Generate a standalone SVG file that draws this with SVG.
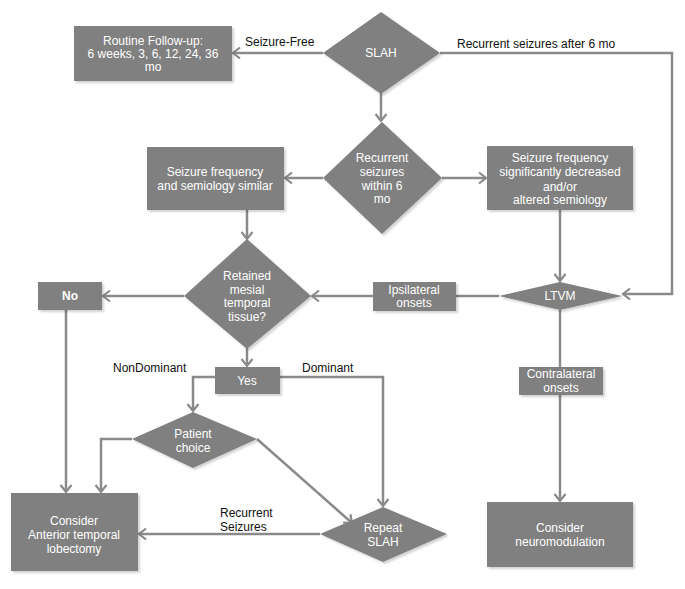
<svg xmlns="http://www.w3.org/2000/svg" width="685" height="589" viewBox="0 0 685 589">
<defs>
<style>
.box{fill:#808080;filter:url(#sh);}
.t{font-family:"Liberation Sans",Arial,sans-serif;font-size:12px;fill:#ffffff;text-anchor:middle;}
.lb{font-family:"Liberation Sans",Arial,sans-serif;font-size:12px;fill:#111111;}
.c{fill:none;stroke:#8a8a8a;stroke-width:2.5;}
</style>
<filter id="sh" x="-10%" y="-10%" width="130%" height="130%">
<feDropShadow dx="2" dy="2" stdDeviation="1.2" flood-color="#000" flood-opacity="0.18"/>
</filter>
<marker id="ah" markerUnits="userSpaceOnUse" markerWidth="14" markerHeight="14" viewBox="0 0 14 14" refX="11" refY="7" orient="auto">
<path d="M4,1.5 L11,7 L4,12.5" fill="none" stroke="#8a8a8a" stroke-width="2.2"/>
</marker>
</defs>
<rect width="685" height="589" fill="#ffffff"/>
<g id="connectors">
<line class="c" x1="323" y1="53" x2="233" y2="53" marker-end="url(#ah)"/>
<line class="c" x1="381" y1="93" x2="381" y2="121" marker-end="url(#ah)"/>
<polyline class="c" points="440,53 672,53 672,294 623,294" marker-end="url(#ah)"/>
<line class="c" x1="323" y1="178" x2="285" y2="178" marker-end="url(#ah)"/>
<line class="c" x1="442" y1="178" x2="486" y2="178" marker-end="url(#ah)"/>
<line class="c" x1="560" y1="210" x2="560" y2="281" marker-end="url(#ah)"/>
<line class="c" x1="247" y1="210" x2="247" y2="239" marker-end="url(#ah)"/>
<line class="c" x1="499" y1="296" x2="456" y2="296"/>
<line class="c" x1="373" y1="296" x2="312" y2="296" marker-end="url(#ah)"/>
<line class="c" x1="184" y1="296" x2="103" y2="296" marker-end="url(#ah)"/>
<line class="c" x1="66" y1="310" x2="66" y2="492" marker-end="url(#ah)"/>
<line class="c" x1="247" y1="348" x2="247" y2="366" marker-end="url(#ah)"/>
<polyline class="c" points="215,377 193,377 193,411" marker-end="url(#ah)"/>
<polyline class="c" points="280,377 383,377 383,506" marker-end="url(#ah)"/>
<polyline class="c" points="132,439 101,439 101,492" marker-end="url(#ah)"/>
<line class="c" x1="257" y1="439" x2="352" y2="523" marker-end="url(#ah)"/>
<line class="c" x1="320" y1="534" x2="139" y2="534" marker-end="url(#ah)"/>
<line class="c" x1="560" y1="310" x2="560" y2="367"/>
<line class="c" x1="560" y1="395" x2="560" y2="501" marker-end="url(#ah)"/>
<text class="lb" x="245" y="46">Seizure-Free</text>
<text class="lb" x="457" y="48">Recurrent seizures after 6 mo</text>
<text class="lb" x="113" y="372">NonDominant</text>
<text class="lb" x="302" y="372">Dominant</text>
<text class="lb" x="220" y="517">Recurrent</text>
<text class="lb" x="220" y="531">Seizures</text>
</g>
<g id="routine">
<rect class="box" x="74" y="26" width="158" height="55"/>
<text class="t" x="153" y="45">Routine Follow-up:</text>
<text class="t" x="153" y="58">6 weeks, 3, 6, 12, 24, 36</text>
<text class="t" x="153" y="71">mo</text>
</g>
<g id="slah">
<polygon class="box" points="381,12 440,53 381,94 323,53"/>
<text class="t" x="381" y="57">SLAH</text>
</g>
<g id="recurrent6">
<polygon class="box" points="382,122 442,178 382,234 323,178"/>
<text class="t" x="382" y="162">Recurrent</text>
<text class="t" x="382" y="176">seizures</text>
<text class="t" x="382" y="190">within 6</text>
<text class="t" x="382" y="203">mo</text>
</g>
<g id="similar">
<rect class="box" x="147" y="147" width="137" height="63"/>
<text class="t" x="215" y="176">Seizure frequency</text>
<text class="t" x="215" y="190">and semiology similar</text>
</g>
<g id="decreased">
<rect class="box" x="487" y="146" width="146" height="64"/>
<text class="t" x="560" y="162">Seizure frequency</text>
<text class="t" x="560" y="176">significantly decreased</text>
<text class="t" x="560" y="191">and/or</text>
<text class="t" x="560" y="204">altered semiology</text>
</g>
<g id="ltvm">
<polygon class="box" points="560,282 622,296 560,310 499,296"/>
<text class="t" x="560" y="300">LTVM</text>
</g>
<g id="retained">
<polygon class="box" points="247,239 311,296 247,349 184,296"/>
<text class="t" x="247" y="280">Retained</text>
<text class="t" x="247" y="294">mesial</text>
<text class="t" x="247" y="307">temporal</text>
<text class="t" x="247" y="321">tissue?</text>
</g>
<g id="no">
<rect class="box" x="38" y="282" width="64" height="28"/>
<text class="t" x="70" y="300" font-weight="bold">No</text>
</g>
<g id="ipsilateral">
<rect class="box" x="373" y="282" width="83" height="29"/>
<text class="t" x="414" y="294">Ipsilateral</text>
<text class="t" x="414" y="307">onsets</text>
</g>
<g id="yes">
<rect class="box" x="215" y="367" width="65" height="27"/>
<text class="t" x="247" y="385">Yes</text>
</g>
<g id="patient">
<polygon class="box" points="193,412 257,439 193,468 132,439"/>
<text class="t" x="193" y="438">Patient</text>
<text class="t" x="193" y="452">choice</text>
</g>
<g id="atl">
<rect class="box" x="11" y="493" width="127" height="78"/>
<text class="t" x="74" y="525">Consider</text>
<text class="t" x="74" y="539">Anterior temporal</text>
<text class="t" x="74" y="553">lobectomy</text>
</g>
<g id="repeat">
<polygon class="box" points="383,507 447,534 383,562 320,534"/>
<text class="t" x="383" y="532">Repeat</text>
<text class="t" x="383" y="546">SLAH</text>
</g>
<g id="contralateral">
<rect class="box" x="519" y="367" width="84" height="28"/>
<text class="t" x="561" y="378">Contralateral</text>
<text class="t" x="561" y="392">onsets</text>
</g>
<g id="neuromod">
<rect class="box" x="487" y="502" width="146" height="65"/>
<text class="t" x="560" y="532">Consider</text>
<text class="t" x="560" y="546">neuromodulation</text>
</g>
</svg>
